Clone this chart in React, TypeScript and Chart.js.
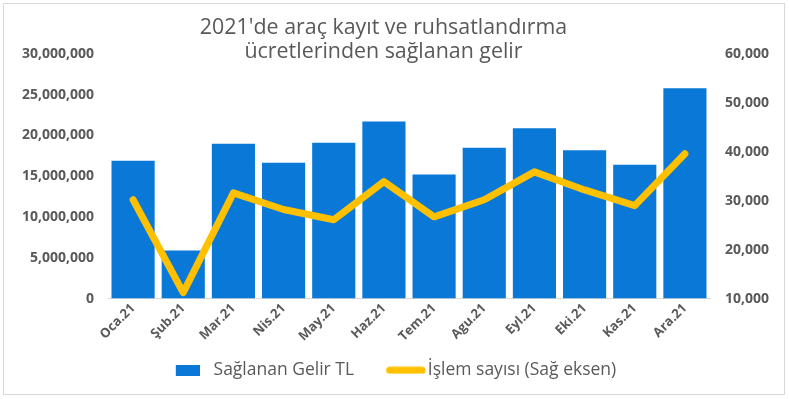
import React, { useEffect, useRef } from "react";
import { Chart, registerables } from "chart.js";

Chart.register(...registerables);

const categories = ["Oca.21", "Şub.21", "Mar.21", "Nis.21", "May.21", "Haz.21", "Tem.21", "Agu.21", "Eyl.21", "Eki.21", "Kas.21", "Ara.21"];
const gelirTL = [16900000, 5900000, 19000000, 16650000, 19100000, 21700000, 15200000, 18500000, 20900000, 18200000, 16400000, 25800000];
const islemSayisi = [30200, 11200, 31600, 28200, 26100, 33900, 26700, 30200, 35900, 32200, 29000, 39600];
const titleLines = ["2021'de araç kayıt ve ruhsatlandırma", "ücretlerinden sağlanan gelir"];
const seriesNames = ["Sağlanan Gelir TL", "İşlem sayısı (Sağ eksen)"];

const GRAY = "#595959";
const BLUE = "#0A78D6";
const GOLD = "#FFC000";
const FONT = "'Open Sans', 'DejaVu Sans', sans-serif";

// legend marker images (centred on the legend box centre)
function rectMarker(color: string) {
  const c = document.createElement("canvas");
  c.width = 40;
  c.height = 11;
  const ctx = c.getContext("2d")!;
  ctx.fillStyle = color;
  ctx.fillRect(16, 0, 24, 11);
  return c;
}

function lineMarker(color: string) {
  const c = document.createElement("canvas");
  c.width = 64;
  c.height = 8;
  const ctx = c.getContext("2d")!;
  ctx.strokeStyle = color;
  ctx.lineWidth = 7;
  ctx.lineCap = "round";
  ctx.beginPath();
  ctx.moveTo(27.5, 4);
  ctx.lineTo(60, 4);
  ctx.stroke();
  return c;
}

const frame = {
  id: "frame",
  beforeDraw(chart: any) {
    const ctx = chart.ctx;
    ctx.save();
    ctx.fillStyle = "#ffffff";
    ctx.fillRect(0, 0, chart.width, chart.height);
    ctx.strokeStyle = "#d9d9d9";
    ctx.lineWidth = 1;
    ctx.strokeRect(3.5, 3.5, 781, 391);
    ctx.restore();
  },
  afterLayout(chart: any) {
    const t = chart.titleBlock;
    if (t) {
      t.left -= 11;
      t.right -= 11;
    }
    const l = chart.legend;
    if (l) {
      l.left -= 9;
      l.right -= 9;
    }
  },
};

export default function App() {
  const ref = useRef<HTMLCanvasElement>(null);
  useEffect(() => {
    const chart = new Chart(ref.current!, {
      type: "bar",
      data: {
        labels: categories,
        datasets: [
          {
            type: "line",
            label: seriesNames[1],
            data: islemSayisi,
            yAxisID: "y1",
            borderColor: GOLD,
            backgroundColor: GOLD,
            borderWidth: 7,
            pointRadius: 0,
            pointStyle: lineMarker(GOLD),
            borderCapStyle: "round",
            borderJoinStyle: "round",
            tension: 0,
            order: 0,
          } as any,
          {
            type: "bar",
            label: seriesNames[0],
            data: gelirTL,
            yAxisID: "y",
            backgroundColor: BLUE,
            borderWidth: 0,
            pointStyle: rectMarker(BLUE),
            barPercentage: 0.86,
            categoryPercentage: 1,
            order: 1,
          } as any,
        ],
      },
      options: {
        responsive: false,
        animation: false,
        layout: { padding: { left: 0, right: 0, top: 0, bottom: 10 } },
        plugins: {
          title: {
            display: true,
            text: titleLines,
            color: GRAY,
            font: { family: FONT, size: 21.4, weight: "normal", lineHeight: 1.12 },
            padding: { top: 16, bottom: -10 },
          },
          legend: {
            position: "bottom",
            reverse: true,
            labels: {
              color: GRAY,
              font: { family: FONT, size: 17.5 },
              usePointStyle: true,
              pointStyleWidth: 50,
              boxWidth: 50,
              boxHeight: 11,
              padding: 15,
            },
          },
          tooltip: { enabled: false },
        },
        scales: {
          x: {
            grid: { display: false, drawTicks: false },
            border: { display: true, color: "#d9d9d9", width: 1 },
            ticks: {
              color: GRAY,
              font: { family: FONT, size: 13, weight: "bold" },
              maxRotation: 45,
              minRotation: 45,
              padding: 2,
            },
          },
          y: {
            position: "left",
            min: 0,
            max: 30000000,
            grid: { display: false, drawTicks: false },
            border: { display: false },
            ticks: {
              stepSize: 5000000,
              color: GRAY,
              font: { family: FONT, size: 14, weight: "bold" },
              padding: 14,
              callback: (v: any) => Number(v).toLocaleString("en-US"),
            },
            afterFit: (s: any) => { s.width = 108; },
          },
          y1: {
            position: "right",
            min: 10000,
            max: 60000,
            grid: { display: false, drawTicks: false },
            border: { display: false },
            ticks: {
              stepSize: 10000,
              color: GRAY,
              font: { family: FONT, size: 14, weight: "bold" },
              padding: 15,
              callback: (v: any) => Number(v).toLocaleString("en-US"),
            },
            afterFit: (s: any) => { s.width = 79; },
          },
        },
      },
      plugins: [frame],
    });
    return () => chart.destroy();
  }, []);
  return (
    <div style={{ position: "absolute", left: 0, top: 0, width: 789, height: 399 }}>
      <canvas ref={ref} width={789} height={399} />
    </div>
  );
}
